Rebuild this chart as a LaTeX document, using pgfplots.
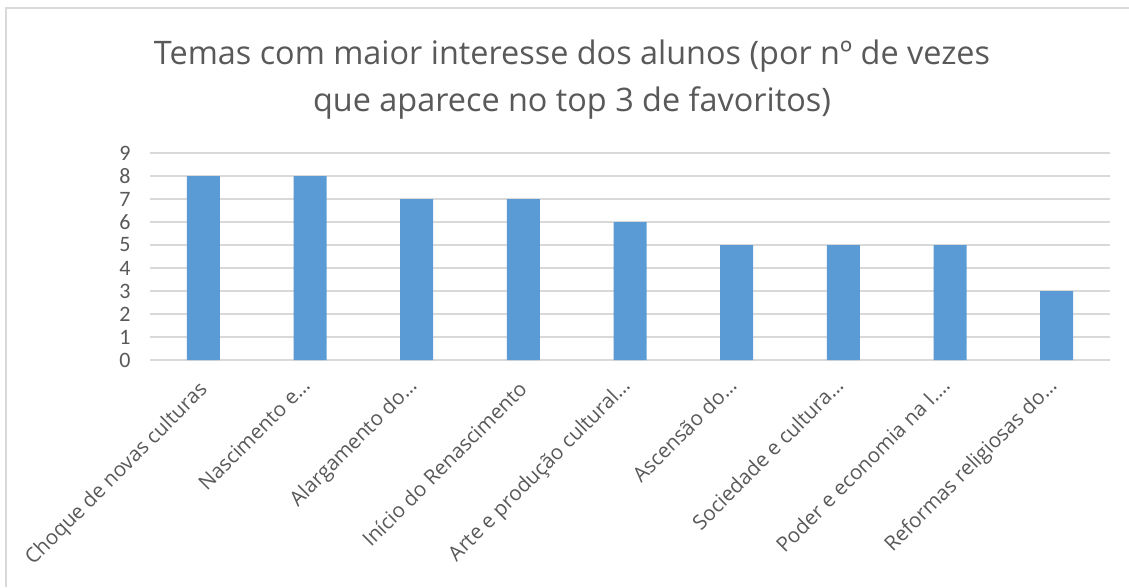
\documentclass[border=0pt]{standalone}
\usepackage{pgfplots}
\pgfplotsset{compat=1.18}
\usepackage{fontspec}
\setmainfont{Open Sans}
\newfontfamily\tickfont{Carlito}
\definecolor{barblue}{HTML}{5B9BD5}
\definecolor{txt}{HTML}{595959}
\definecolor{gridc}{HTML}{D9D9D9}
\newcommand{\tr}[1]{\raisebox{5pt}{#1}\hspace{-16pt}}
\begin{document}
\begin{tikzpicture}[x=1pt,y=1pt]
\useasboundingbox (0,0) rectangle (1129,-587);
\fill[white] (0,0) rectangle (1129,-587);
\draw[gridc, line width=1.5pt] (6,-587) -- (6,-8) -- (1129,-8);
\node[txt, font=\fontsize{32.4}{36}\selectfont, anchor=base, inner sep=0pt] at (572,-64) {Temas com maior interesse dos alunos (por nº de vezes};
\node[txt, font=\fontsize{32.4}{36}\selectfont, anchor=base, inner sep=0pt] at (572,-111) {que aparece no top 3 de favoritos)};
\begin{axis}[
  at={(150pt,-360pt)}, anchor=south west,
  scale only axis, width=960pt, height=207pt,
  xmin=-0.5, xmax=8.5, ymin=0, ymax=9,
  ytick={0,...,9}, xtick={0,...,8},
  xticklabels={Choque de novas culturas, \tr{Nascimento e…}, \tr{Alargamento do…}, Início do Renascimento, \tr{Arte e produção cultural…}, \tr{Ascensão do…}, \tr{Sociedade e cultura…}, \tr{Poder e economia na I.…}, \tr{Reformas religiosas do…}},
  ymajorgrids, major grid style={gridc, line width=1.5pt},
  axis line style={draw=none}, major tick length=0pt,
  /pgf/number format/assume math mode=true,
  yticklabel style={font=\tickfont\fontsize{22}{22}\selectfont, text=txt, anchor=east, xshift=-16pt},
  xticklabel style={font=\fontsize{20.5}{22}\selectfont, text=txt, xshift=6.4pt, yshift=-29.4pt, rotate=45, anchor=base east, inner sep=2pt},
  clip=false,
]
\addplot[ybar, bar width=33pt, fill=barblue, draw=none] coordinates {(0,8) (1,8) (2,7) (3,7) (4,6) (5,5) (6,5) (7,5) (8,3)};
\end{axis}
\end{tikzpicture}
\end{document}
